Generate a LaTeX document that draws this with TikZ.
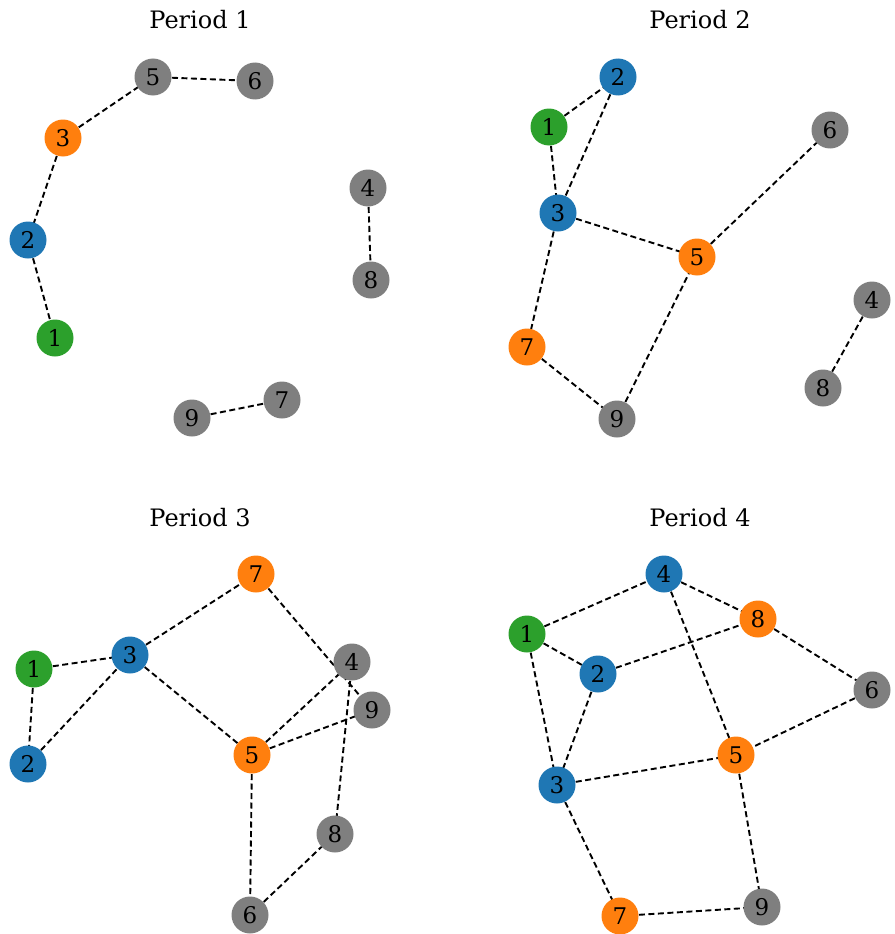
\documentclass[tikz,border=0pt]{standalone}
\usepackage{fontspec}
\setmainfont{DejaVu Serif}
\pgfdeclarelayer{bg}
\pgfsetlayers{bg,main}
\definecolor{cblue}{HTML}{1F77B4}
\definecolor{corange}{HTML}{FF7F0E}
\definecolor{cgreen}{HTML}{2CA02C}
\definecolor{cgray}{HTML}{7F7F7F}
\tikzset{
  nd/.style={circle,minimum size=37pt,inner sep=0pt,font=\fontsize{23}{26}\selectfont},
  nb/.style={nd,fill=cblue},
  no/.style={nd,fill=corange},
  ng/.style={nd,fill=cgreen},
  ny/.style={nd,fill=cgray},
  ed/.style={line width=1.9pt,dash pattern=on 6pt off 3.5pt,black},
  ttl/.style={font=\fontsize{24}{27}\selectfont}
}
\begin{document}
\begin{tikzpicture}[x=1pt,y=-1pt]
\useasboundingbox (0,0) rectangle (894,934);
% Period 1
\node[ttl] (t1) at (200,20) {Period 1};
\node[ny] (a5) at (153,77) {5};
\node[ny] (a6) at (255,81) {6};
\node[no] (a3) at (63,138) {3};
\node[ny] (a4) at (368,188) {4};
\node[nb] (a2) at (28,240) {2};
\node[ny] (a8) at (371,280) {8};
\node[ng] (a1) at (55,338) {1};
\node[ny] (a7) at (282,400) {7};
\node[ny] (a9) at (192,418) {9};
% Period 2
\node[ttl] (t2) at (700,20) {Period 2};
\node[nb] (b2) at (618,77) {2};
\node[ng] (b1) at (549,127) {1};
\node[ny] (b6) at (830,130) {6};
\node[nb] (b3) at (558,213) {3};
\node[no] (b5) at (697,257) {5};
\node[ny] (b4) at (872,300) {4};
\node[no] (b7) at (527,347) {7};
\node[ny] (b8) at (823,388) {8};
\node[ny] (b9) at (617,419) {9};
% Period 3
\node[ttl] (t3) at (200,518) {Period 3};
\node[no] (c7) at (256,574) {7};
\node[nb] (c3) at (130,655) {3};
\node[ny] (c4) at (352,662) {4};
\node[ng] (c1) at (34,669) {1};
\node[ny] (c9) at (372,710) {9};
\node[no] (c5) at (252,755) {5};
\node[nb] (c2) at (28,764) {2};
\node[ny] (c8) at (335,834) {8};
\node[ny] (c6) at (250,915) {6};
% Period 4
\node[ttl] (t4) at (700,518) {Period 4};
\node[nb] (d4) at (664,574) {4};
\node[no] (d8) at (758,619) {8};
\node[ng] (d1) at (527,634) {1};
\node[nb] (d2) at (598,674) {2};
\node[ny] (d6) at (872,690) {6};
\node[no] (d5) at (736,755) {5};
\node[nb] (d3) at (557,785) {3};
\node[ny] (d9) at (762,907) {9};
\node[no] (d7) at (620,916) {7};
\begin{pgfonlayer}{bg}
\draw[ed] (a5.center) -- (a6.center);
\draw[ed] (a3.center) -- (a5.center);
\draw[ed] (a3.center) -- (a2.center);
\draw[ed] (a2.center) -- (a1.center);
\draw[ed] (a4.center) -- (a8.center);
\draw[ed] (a9.center) -- (a7.center);
\draw[ed] (b1.center) -- (b2.center);
\draw[ed] (b2.center) -- (b3.center);
\draw[ed] (b1.center) -- (b3.center);
\draw[ed] (b3.center) -- (b5.center);
\draw[ed] (b5.center) -- (b6.center);
\draw[ed] (b3.center) -- (b7.center);
\draw[ed] (b7.center) -- (b9.center);
\draw[ed] (b9.center) -- (b5.center);
\draw[ed] (b4.center) -- (b8.center);
\draw[ed] (c1.center) -- (c3.center);
\draw[ed] (c1.center) -- (c2.center);
\draw[ed] (c2.center) -- (c3.center);
\draw[ed] (c3.center) -- (c7.center);
\draw[ed] (c3.center) -- (c5.center);
\draw[ed] (c7.center) -- (c9.center);
\draw[ed] (c5.center) -- (c4.center);
\draw[ed] (c5.center) -- (c9.center);
\draw[ed] (c4.center) -- (c8.center);
\draw[ed] (c5.center) -- (c6.center);
\draw[ed] (c6.center) -- (c8.center);
\draw[ed] (d1.center) -- (d4.center);
\draw[ed] (d4.center) -- (d8.center);
\draw[ed] (d4.center) -- (d5.center);
\draw[ed] (d1.center) -- (d2.center);
\draw[ed] (d2.center) -- (d8.center);
\draw[ed] (d1.center) -- (d3.center);
\draw[ed] (d2.center) -- (d3.center);
\draw[ed] (d8.center) -- (d6.center);
\draw[ed] (d6.center) -- (d5.center);
\draw[ed] (d3.center) -- (d5.center);
\draw[ed] (d3.center) -- (d7.center);
\draw[ed] (d5.center) -- (d9.center);
\draw[ed] (d7.center) -- (d9.center);
\end{pgfonlayer}
\end{tikzpicture}
\end{document}
